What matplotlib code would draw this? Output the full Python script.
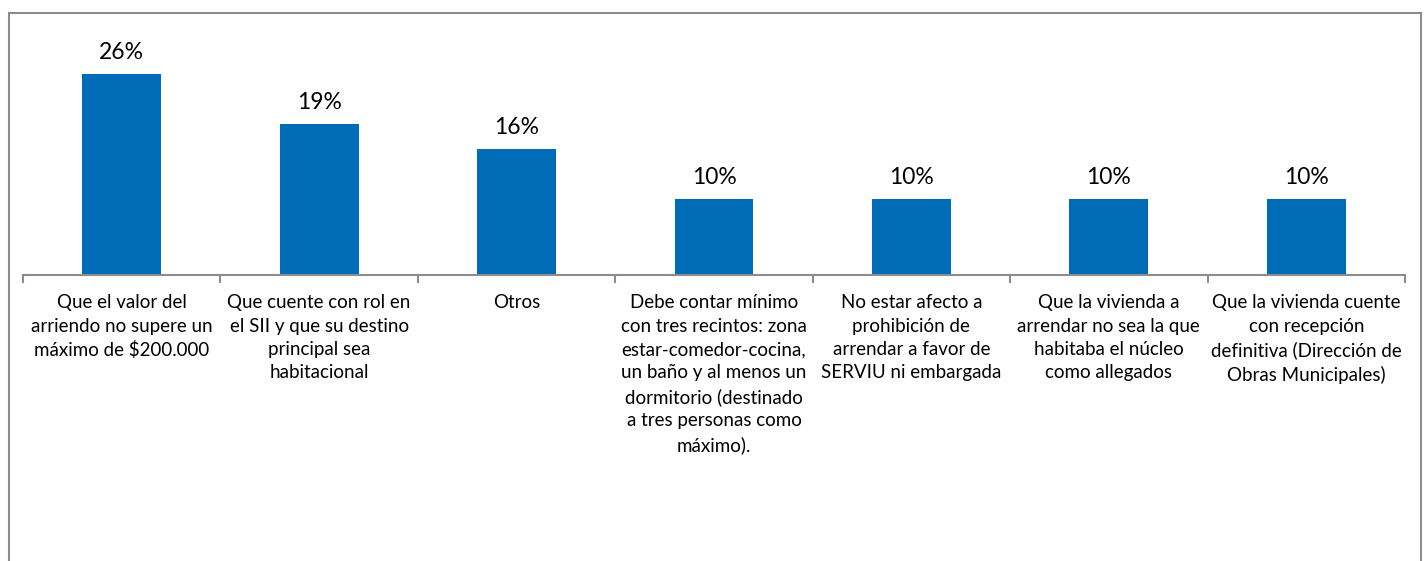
import matplotlib.pyplot as plt
from matplotlib.patches import Rectangle
import numpy as np

plt.rcParams['font.family'] = ['Lato', 'DejaVu Sans']

categories = [
    "Que el valor del\narriendo no supere un\nmáximo de $200.000",
    "Que cuente con rol en\nel SII y que su destino\nprincipal sea\nhabitacional",
    "Otros",
    "Debe contar mínimo\ncon tres recintos: zona\nestar-comedor-cocina,\nun baño y al menos un\ndormitorio (destinado\na tres personas como\nmáximo).",
    "No estar afecto a\nprohibición de\narrendar a favor de\nSERVIU ni embargada",
    "Que la vivienda a\narrendar no sea la que\nhabitaba el núcleo\ncomo allegados",
    "Que la vivienda cuente\ncon recepción\ndefinitiva (Dirección de\nObras Municipales)",
]
values = [25.8, 19.4, 16.1, 9.7, 9.7, 9.7, 9.7]

W, H = 1428, 561
fig = plt.figure(figsize=(W / 100, H / 100), dpi=100)
ax = fig.add_axes([23 / W, (H - 275) / H, (1405 - 23) / W, (275 - 41) / H])

x = np.arange(len(values))
ax.bar(x, values, width=0.4, color='#006BB6')
for xi, v in zip(x, values):
    ax.annotate(f"{v:.0f}%", (xi, v), xytext=(0, 8), textcoords='offset points',
                ha='center', va='bottom', fontsize=16.5, color='black')

ax.set_xlim(-0.5, len(values) - 0.5)
ax.set_ylim(0, 30)
ax.set_yticks([])
for s in ['top', 'right', 'left']:
    ax.spines[s].set_visible(False)
ax.spines['bottom'].set_color('#8c8c8c')
ax.spines['bottom'].set_linewidth(1.5)

ax.set_xticks(x)
ax.set_xticklabels(categories, fontsize=13.5, linespacing=1.45, multialignment='center')
ax.tick_params(axis='x', which='major', length=0, pad=14)
ax.set_xticks(np.arange(-0.5, len(values)), minor=True)
ax.tick_params(axis='x', which='minor', length=6, width=1.5, color='#8c8c8c')

fig.patches.append(Rectangle((9 / W, -0.1), (1421 - 9) / W, 1.1 - 13 / H,
                             transform=fig.transFigure, fill=False,
                             edgecolor='#8c8c8c', linewidth=1.5))

fig.savefig('out.png', dpi=100)
